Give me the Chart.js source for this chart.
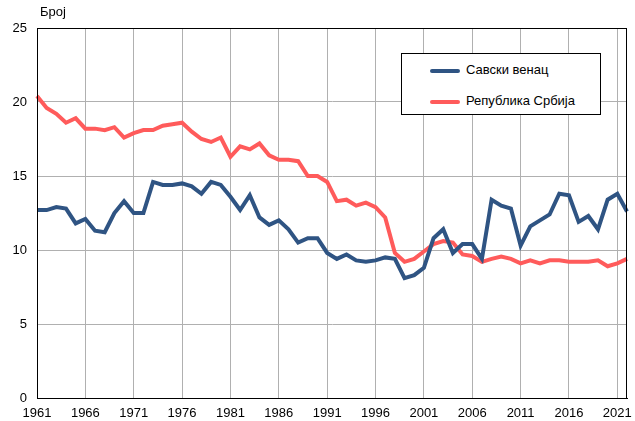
<!DOCTYPE html>
<html>
<head>
<meta charset="utf-8">
<script src="https://cdn.jsdelivr.net/npm/chart.js@4/dist/chart.umd.min.js"></script>
<style>
  html, body { margin: 0; padding: 0; background: #fff; }
  #wrap { position: relative; width: 635px; height: 421px; font-family: "Liberation Sans", Arial, sans-serif; }
  #unit { position: absolute; left: 40px; top: 4px; font-size: 13px; color: #000; }
  #legend { position: absolute; left: 401px; top: 53px; width: 198px; height: 60px; border: 1px solid #000; background: #fff; font-size: 13px; }
  .item { position: absolute; left: 28px; height: 16px; line-height: 16px; }
  .item span { display: inline-block; width: 30px; height: 4px; border-radius: 2px; vertical-align: middle; margin-right: 6px; }
</style>
</head>
<body>
<div id="wrap">
  <canvas id="chart" width="635" height="421"></canvas>
  <div id="unit">Број</div>
  <div id="legend"></div>
</div>
<script>
const years = [];
for (let y = 1961; y <= 2022; y++) years.push(String(y));

const seriesNames = ['Савски венац', 'Република Србија'];
const seriesColors = ['#2f5483', '#ff5b5b'];

const savskiVenac = [
  12.7, 12.7, 12.9, 12.8, 11.8, 12.1, 11.3, 11.2, 12.5, 13.3,
  12.5, 12.5, 14.6, 14.4, 14.4, 14.5, 14.3, 13.8, 14.6, 14.4,
  13.6, 12.7, 13.7, 12.2, 11.7, 12.0, 11.4, 10.5, 10.8, 10.8,
  9.8, 9.4, 9.7, 9.3, 9.2, 9.3, 9.5, 9.4, 8.1, 8.3,
  8.8, 10.8, 11.4, 9.8, 10.4, 10.4, 9.4, 13.4, 13.0, 12.8,
  10.3, 11.6, 12.0, 12.4, 13.8, 13.7, 11.9, 12.3, 11.4, 13.4,
  13.8, 12.6
];
const srbija = [
  20.4, 19.6, 19.2, 18.6, 18.9, 18.2, 18.2, 18.1, 18.3, 17.6,
  17.9, 18.1, 18.1, 18.4, 18.5, 18.6, 18.0, 17.5, 17.3, 17.6,
  16.3, 17.0, 16.8, 17.2, 16.4, 16.1, 16.1, 16.0, 15.0, 15.0,
  14.6, 13.3, 13.4, 13.0, 13.2, 12.9, 12.2, 9.8, 9.2, 9.4,
  9.9, 10.4, 10.6, 10.5, 9.7, 9.6, 9.2, 9.4, 9.55, 9.4,
  9.1, 9.3, 9.1, 9.3, 9.3, 9.2, 9.2, 9.2, 9.3, 8.9,
  9.1, 9.4
];
const yTicks = [0, 5, 10, 15, 20, 25];

// legend box
const legend = document.getElementById('legend');
seriesNames.forEach((name, i) => {
  const d = document.createElement('div');
  d.className = 'item';
  d.style.top = (8 + i * 31) + 'px';
  d.innerHTML = `<span style="background:${seriesColors[i]}"></span>${name}`;
  legend.appendChild(d);
});

const frame = {
  id: 'frame',
  afterDraw(chart) {
    const { ctx, chartArea: a } = chart;
    ctx.save();
    ctx.strokeStyle = '#000';
    ctx.lineWidth = 1;
    ctx.strokeRect(a.left + 0.5, a.top + 0.5, a.right - a.left - 1, a.bottom - a.top);
    ctx.restore();
  }
};

const isFifth = (i) => i % 5 === 0;

new Chart(document.getElementById('chart'), {
  type: 'line',
  data: {
    labels: years,
    datasets: [
      { label: seriesNames[0], data: savskiVenac, borderColor: seriesColors[0], borderWidth: 4, pointRadius: 0, tension: 0, order: 1 },
      { label: seriesNames[1], data: srbija, borderColor: seriesColors[1], borderWidth: 4, pointRadius: 0, tension: 0, order: 2 }
    ]
  },
  options: {
    responsive: false,
    animation: false,
    layout: { padding: { top: 28, right: 7, left: 0, bottom: 0 } },
    plugins: { legend: { display: false }, tooltip: { enabled: false } },
    scales: {
      x: {
        offset: false,
        grid: {
          drawTicks: false,
          color: (c) => isFifth(c.index) ? '#b0b0b0' : 'rgba(0,0,0,0)'
        },
        border: { color: '#000' },
        ticks: {
          autoSkip: false,
          maxRotation: 0,
          padding: 8,
          color: '#000',
          font: { family: 'Liberation Sans', size: 13 },
          callback: function (v, i) { return isFifth(i) ? this.getLabelForValue(v) : ''; }
        },
        afterFit: (s) => { s.height = 23; }
      },
      y: {
        min: 0,
        max: 25,
        afterBuildTicks: (s) => { s.ticks = yTicks.map(v => ({ value: v })); },
        grid: { drawTicks: false, color: '#b0b0b0' },
        border: { color: '#000' },
        ticks: {
          padding: 10,
          color: '#000',
          font: { family: 'Liberation Sans', size: 13 }
        },
        afterFit: (s) => { s.width = 37; }
      }
    }
  },
  plugins: [frame]
});
</script>
</body>
</html>
